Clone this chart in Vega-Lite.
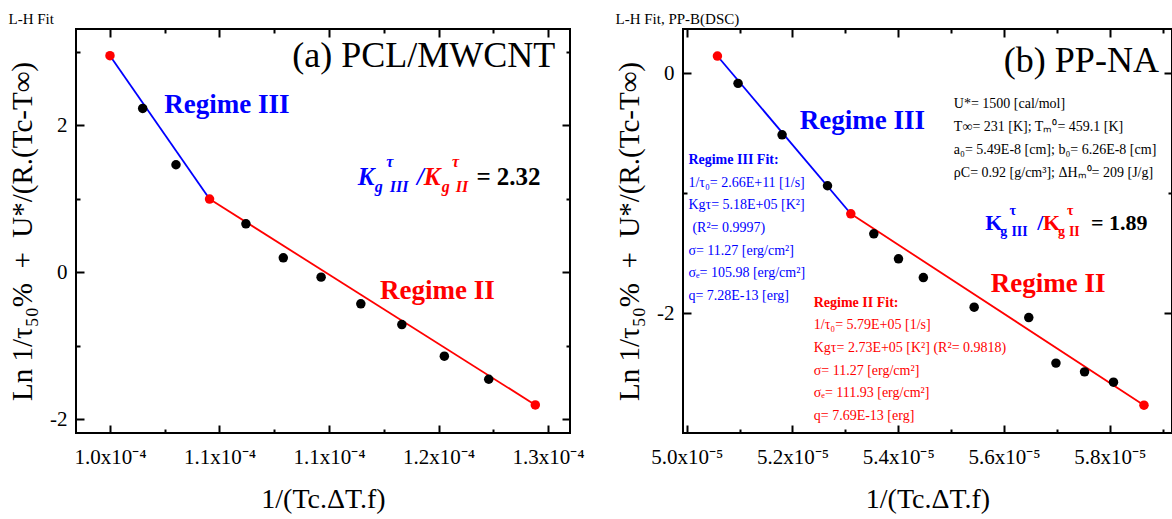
{
  "$schema": "https://vega.github.io/schema/vega-lite/v6.json",
  "background": "white",
  "padding": {"left": 7, "top": 11, "right": 0, "bottom": 0},
  "spacing": 28,
  "config": {
    "font": "Liberation Serif",
    "view": {"stroke": "black", "strokeWidth": 2},
    "axis": {
      "domain": false, "grid": false, "tickColor": "black", "tickWidth": 2,
      "labelFont": "Liberation Serif", "labelFontSize": 21, "labelColor": "black",
      "labelFlush": false, "labelOverlap": false, "labelBound": false,
      "titleFont": "Liberation Serif", "titleFontSize": 28, "titleFontWeight": "normal", "titleColor": "black"
    },
    "title": {"anchor": "start", "font": "Liberation Serif", "fontSize": 15, "fontWeight": "normal", "color": "black", "offset": 1}
  },
  "datasets": {
    "ptsA": [
      {"kind": "endpoint", "x": 1.0e-4, "y": 2.947},
      {"kind": "data", "x": 1.0224e-4, "y": 2.229},
      {"kind": "data", "x": 1.0452e-4, "y": 1.462},
      {"kind": "endpoint", "x": 1.0682e-4, "y": 0.995},
      {"kind": "data", "x": 1.0931e-4, "y": 0.658},
      {"kind": "data", "x": 1.1187e-4, "y": 0.195},
      {"kind": "data", "x": 1.1446e-4, "y": -0.068},
      {"kind": "data", "x": 1.1718e-4, "y": -0.432},
      {"kind": "data", "x": 1.1999e-4, "y": -0.714},
      {"kind": "data", "x": 1.2290e-4, "y": -1.144},
      {"kind": "data", "x": 1.2594e-4, "y": -1.458},
      {"kind": "endpoint", "x": 1.2913e-4, "y": -1.808}
    ],
    "lineA": [
      {"regime": "III", "x": 1.0e-4, "y": 2.947},
      {"regime": "III", "x": 1.0682e-4, "y": 0.995},
      {"regime": "II", "x": 1.0682e-4, "y": 0.995},
      {"regime": "II", "x": 1.2913e-4, "y": -1.808}
    ],
    "txtA": [
      {"role": "panel", "series": "k", "t": "(a) PCL/MWCNT", "x": 1.3050e-4, "y": 2.797},
      {"role": "regime", "series": "III", "t": "Regime III", "x": 1.0372e-4, "y": 2.166},
      {"role": "regime", "series": "II", "t": "Regime II", "x": 1.1850e-4, "y": -0.368},
      {"role": "ratio", "series": "III", "t": "K", "x": 1.16978e-4, "y": 1.189},
      {"role": "ratioSub", "series": "III", "t": "g", "x": 1.18141e-4, "y": 1.094},
      {"role": "ratioSub", "series": "III", "t": "τ", "x": 1.18915e-4, "y": 1.435},
      {"role": "ratioSub", "series": "III", "t": "III", "x": 1.19168e-4, "y": 1.094},
      {"role": "ratio", "series": "III", "t": "/", "x": 1.21022e-4, "y": 1.189},
      {"role": "ratio", "series": "II", "t": "K", "x": 1.21488e-4, "y": 1.189},
      {"role": "ratioSub", "series": "II", "t": "g", "x": 1.22727e-4, "y": 1.094},
      {"role": "ratioSub", "series": "II", "t": "τ", "x": 1.23418e-4, "y": 1.435},
      {"role": "ratioSub", "series": "II", "t": "II", "x": 1.23678e-4, "y": 1.094},
      {"role": "ratioEq", "series": "k", "t": "= 2.32", "x": 1.25094e-4, "y": 1.189}
    ],
    "ptsB": [
      {"kind": "endpoint", "x": 5.0581e-5, "y": 0.145},
      {"kind": "data", "x": 5.0971e-5, "y": -0.083},
      {"kind": "data", "x": 5.1804e-5, "y": -0.512},
      {"kind": "data", "x": 5.2663e-5, "y": -0.937},
      {"kind": "endpoint", "x": 5.3104e-5, "y": -1.171},
      {"kind": "data", "x": 5.3539e-5, "y": -1.338},
      {"kind": "data", "x": 5.4006e-5, "y": -1.547},
      {"kind": "data", "x": 5.4476e-5, "y": -1.703},
      {"kind": "data", "x": 5.5437e-5, "y": -1.950},
      {"kind": "data", "x": 5.6470e-5, "y": -2.037},
      {"kind": "data", "x": 5.6984e-5, "y": -2.417},
      {"kind": "data", "x": 5.7525e-5, "y": -2.490},
      {"kind": "data", "x": 5.8072e-5, "y": -2.576},
      {"kind": "endpoint", "x": 5.8649e-5, "y": -2.768}
    ],
    "lineB": [
      {"regime": "III", "x": 5.0581e-5, "y": 0.145},
      {"regime": "III", "x": 5.3104e-5, "y": -1.171},
      {"regime": "II", "x": 5.3104e-5, "y": -1.171},
      {"regime": "II", "x": 5.8649e-5, "y": -2.768}
    ],
    "txtB": [
      {"role": "panel", "series": "k", "t": "(b) PP-NA", "x": 5.5999e-5, "y": 0.014},
      {"role": "regime", "series": "III", "t": "Regime III", "x": 5.2137e-5, "y": -0.462},
      {"role": "regime", "series": "II", "t": "Regime II", "x": 5.5753e-5, "y": -1.820},
      {"role": "ratio", "series": "III", "t": "K", "x": 5.5649e-5, "y": -1.305},
      {"role": "ratioSub", "series": "III", "t": "g", "x": 5.5929e-5, "y": -1.355},
      {"role": "ratioSub", "series": "III", "t": "τ", "x": 5.6105e-5, "y": -1.180},
      {"role": "ratioSub", "series": "III", "t": "III", "x": 5.6141e-5, "y": -1.355},
      {"role": "ratio", "series": "III", "t": "/", "x": 5.6631e-5, "y": -1.305},
      {"role": "ratio", "series": "II", "t": "K", "x": 5.6737e-5, "y": -1.305},
      {"role": "ratioSub", "series": "II", "t": "g", "x": 5.7021e-5, "y": -1.355},
      {"role": "ratioSub", "series": "II", "t": "τ", "x": 5.7191e-5, "y": -1.180},
      {"role": "ratioSub", "series": "II", "t": "II", "x": 5.7229e-5, "y": -1.355},
      {"role": "ratio", "series": "k", "t": "= 1.89", "x": 5.7646e-5, "y": -1.305},
      {"role": "info", "series": "k", "t": "U*= 1500 [cal/mol]", "x": 5.5053e-5, "y": -0.286},
      {"role": "info", "series": "k", "t": "T∞= 231 [K]; Tₘ⁰= 459.1 [K]", "x": 5.5053e-5, "y": -0.478},
      {"role": "info", "series": "k", "t": "a₀= 5.49E-8 [cm]; b₀= 6.26E-8 [cm]", "x": 5.5053e-5, "y": -0.670},
      {"role": "info", "series": "k", "t": "ρC= 0.92 [g/cm³]; ΔHₘ⁰= 209 [J/g]", "x": 5.5053e-5, "y": -0.862},
      {"role": "fitHead", "series": "III", "t": "Regime III Fit:", "x": 5.0032e-5, "y": -0.756},
      {"role": "fitLine", "series": "III", "t": "1/τ₀= 2.66E+11 [1/s]", "x": 5.0032e-5, "y": -0.945},
      {"role": "fitLine", "series": "III", "t": "Kgτ= 5.18E+05 [K²]", "x": 5.0032e-5, "y": -1.134},
      {"role": "fitLine", "series": "III", "t": "(R²= 0.9997)", "x": 5.0108e-5, "y": -1.322},
      {"role": "fitLine", "series": "III", "t": "σ= 11.27 [erg/cm²]", "x": 5.0032e-5, "y": -1.511},
      {"role": "fitLine", "series": "III", "t": "σₑ= 105.98 [erg/cm²]", "x": 5.0032e-5, "y": -1.700},
      {"role": "fitLine", "series": "III", "t": "q= 7.28E-13 [erg]", "x": 5.0032e-5, "y": -1.889},
      {"role": "fitHead", "series": "II", "t": "Regime II Fit:", "x": 5.2403e-5, "y": -1.945},
      {"role": "fitLine", "series": "II", "t": "1/τ₀= 5.79E+05 [1/s]", "x": 5.2403e-5, "y": -2.134},
      {"role": "fitLine", "series": "II", "t": "Kgτ= 2.73E+05 [K²] (R²= 0.9818)", "x": 5.2403e-5, "y": -2.324},
      {"role": "fitLine", "series": "II", "t": "σ= 11.27 [erg/cm²]", "x": 5.2403e-5, "y": -2.513},
      {"role": "fitLine", "series": "II", "t": "σₑ= 111.93 [erg/cm²]", "x": 5.2403e-5, "y": -2.703},
      {"role": "fitLine", "series": "II", "t": "q= 7.69E-13 [erg]", "x": 5.2403e-5, "y": -2.892}
    ]
  },
  "hconcat": [
    {
      "width": 494, "height": 404,
      "title": {"text": "L-H Fit"},
      "encoding": {
        "x": {"field": "x", "type": "quantitative", "scale": {"domain": [9.7673e-5, 1.31506e-4], "nice": false, "zero": false}, "axis": null},
        "y": {"field": "y", "type": "quantitative", "scale": {"domain": [-2.19, 3.31], "nice": false, "zero": false}, "axis": null}
      },
      "layer": [
        {
          "data": {"name": "lineA"}, "transform": [{"filter": "datum.regime == 'III'"}],
          "mark": {"type": "line", "color": "#0000ff", "strokeWidth": 1.8},
          "encoding": {
            "x": {"field": "x", "type": "quantitative", "scale": {"domain": [9.7673e-5, 1.31506e-4], "nice": false, "zero": false},
              "axis": {"orient": "bottom", "values": [0.0001, 0.00010375, 0.0001075, 0.00011125, 0.000115, 0.00011875, 0.0001225, 0.00012625, 0.00013],
                "labelExpr": "['1.0x10⁻⁴','','1.1x10⁻⁴','','1.1x10⁻⁴','','1.2x10⁻⁴','','1.3x10⁻⁴'][round((datum.value*10000-1)/0.0375)]",
                "tickSize": {"condition": {"test": "round((datum.value*10000-1)/0.0375) % 2 == 0", "value": -8}, "value": -4},
                "labelPadding": 21, "title": "1/(Tc.ΔT.f)", "titlePadding": 14}},
            "y": {"field": "y", "type": "quantitative", "scale": {"domain": [-2.19, 3.31], "nice": false, "zero": false},
              "axis": {"orient": "left", "values": [-2, -1, 0, 1, 2, 3],
                "labelExpr": "datum.value % 2 == 0 ? '' + datum.value : ''",
                "tickSize": {"condition": {"test": "datum.value % 2 == 0", "value": -8}, "value": -4},
                "labelPadding": 17, "title": "Ln 1/τ₅₀%\u00a0\u00a0+\u00a0\u00a0U*/(R.(Tc-T∞)", "titleFontSize": 29, "titlePadding": 12}}
          }
        },
        {
          "data": {"name": "lineA"}, "transform": [{"filter": "datum.regime == 'II'"}],
          "mark": {"type": "line", "color": "#ff0000", "strokeWidth": 1.8},
          "encoding": {
            "x": {"field": "x", "type": "quantitative", "scale": {"domain": [9.7673e-5, 1.31506e-4], "nice": false, "zero": false},
              "axis": {"orient": "top", "values": [0.0001, 0.00010375, 0.0001075, 0.00011125, 0.000115, 0.00011875, 0.0001225, 0.00012625, 0.00013],
                "labels": false, "title": null,
                "tickSize": {"condition": {"test": "round((datum.value*10000-1)/0.0375) % 2 == 0", "value": -8}, "value": -4}}},
            "y": {"field": "y", "type": "quantitative", "scale": {"domain": [-2.19, 3.31], "nice": false, "zero": false},
              "axis": {"orient": "right", "values": [-2, -1, 0, 1, 2, 3], "labels": false, "title": null,
                "tickSize": {"condition": {"test": "datum.value % 2 == 0", "value": -8}, "value": -4}}}
          }
        },
        {"data": {"name": "ptsA"}, "transform": [{"filter": "datum.kind == 'data'"}], "mark": {"type": "circle", "size": 90, "color": "black", "opacity": 1}},
        {"data": {"name": "ptsA"}, "transform": [{"filter": "datum.kind == 'endpoint'"}], "mark": {"type": "circle", "size": 90, "color": "#ff0000", "opacity": 1}},
        {"data": {"name": "txtA"}, "transform": [{"filter": "datum.role == 'panel'"}],
          "mark": {"type": "text", "align": "right", "baseline": "alphabetic", "fontSize": 36, "font": "Liberation Serif"},
          "encoding": {"text": {"field": "t"}, "color": {"field": "series", "type": "nominal", "scale": {"domain": ["III", "II", "k"], "range": ["#0000ff", "#ff0000", "#000000"]}, "legend": null}}},
        {"data": {"name": "txtA"}, "transform": [{"filter": "datum.role == 'regime'"}],
          "mark": {"type": "text", "align": "left", "baseline": "alphabetic", "fontSize": 27, "fontWeight": "bold", "font": "Liberation Serif"},
          "encoding": {"text": {"field": "t"}, "color": {"field": "series", "type": "nominal", "scale": {"domain": ["III", "II", "k"], "range": ["#0000ff", "#ff0000", "#000000"]}, "legend": null}}},
        {"data": {"name": "txtA"}, "transform": [{"filter": "datum.role == 'ratio'"}],
          "mark": {"type": "text", "align": "left", "baseline": "alphabetic", "fontSize": 25, "fontWeight": "bold", "fontStyle": "italic", "font": "Liberation Serif"},
          "encoding": {"text": {"field": "t"}, "color": {"field": "series", "type": "nominal", "scale": {"domain": ["III", "II", "k"], "range": ["#0000ff", "#ff0000", "#000000"]}, "legend": null}}},
        {"data": {"name": "txtA"}, "transform": [{"filter": "datum.role == 'ratioSub'"}],
          "mark": {"type": "text", "align": "left", "baseline": "alphabetic", "fontSize": 16, "fontWeight": "bold", "fontStyle": "italic", "font": "Liberation Serif"},
          "encoding": {"text": {"field": "t"}, "color": {"field": "series", "type": "nominal", "scale": {"domain": ["III", "II", "k"], "range": ["#0000ff", "#ff0000", "#000000"]}, "legend": null}}},
        {"data": {"name": "txtA"}, "transform": [{"filter": "datum.role == 'ratioEq'"}],
          "mark": {"type": "text", "align": "left", "baseline": "alphabetic", "fontSize": 25, "fontWeight": "bold", "font": "Liberation Serif"},
          "encoding": {"text": {"field": "t"}, "color": {"field": "series", "type": "nominal", "scale": {"domain": ["III", "II", "k"], "range": ["#0000ff", "#ff0000", "#000000"]}, "legend": null}}}
      ],
      "resolve": {"axis": {"x": "independent", "y": "independent"}}
    },
    {
      "width": 489, "height": 404,
      "title": {"text": "L-H Fit, PP-B(DSC)"},
      "encoding": {
        "x": {"field": "x", "type": "quantitative", "scale": {"domain": [4.993e-5, 5.9179e-5], "nice": false, "zero": false}, "axis": null},
        "y": {"field": "y", "type": "quantitative", "scale": {"domain": [-3.0, 0.3706], "nice": false, "zero": false}, "axis": null}
      },
      "layer": [
        {
          "data": {"name": "lineB"}, "transform": [{"filter": "datum.regime == 'III'"}],
          "mark": {"type": "line", "color": "#0000ff", "strokeWidth": 1.8},
          "encoding": {
            "x": {"field": "x", "type": "quantitative", "scale": {"domain": [4.993e-5, 5.9179e-5], "nice": false, "zero": false},
              "axis": {"orient": "bottom", "values": [5.0e-5, 5.1e-5, 5.2e-5, 5.3e-5, 5.4e-5, 5.5e-5, 5.6e-5, 5.7e-5, 5.8e-5, 5.9e-5],
                "labelExpr": "['5.0x10⁻⁵','','5.2x10⁻⁵','','5.4x10⁻⁵','','5.6x10⁻⁵','','5.8x10⁻⁵',''][round((datum.value*100000-5)/0.1)]",
                "tickSize": {"condition": {"test": "round((datum.value*100000-5)/0.1) % 2 == 0", "value": -8}, "value": -4},
                "labelPadding": 21, "title": "1/(Tc.ΔT.f)", "titlePadding": 14}},
            "y": {"field": "y", "type": "quantitative", "scale": {"domain": [-3.0, 0.3706], "nice": false, "zero": false},
              "axis": {"orient": "left", "values": [-2, -1, 0],
                "labelExpr": "datum.value % 2 == 0 ? '' + datum.value : ''",
                "tickSize": {"condition": {"test": "datum.value % 2 == 0", "value": -8}, "value": -4},
                "labelPadding": 17, "title": "Ln 1/τ₅₀%\u00a0\u00a0+\u00a0\u00a0U*/(R.(Tc-T∞)", "titleFontSize": 29, "titlePadding": 12}}
          }
        },
        {
          "data": {"name": "lineB"}, "transform": [{"filter": "datum.regime == 'II'"}],
          "mark": {"type": "line", "color": "#ff0000", "strokeWidth": 1.8},
          "encoding": {
            "x": {"field": "x", "type": "quantitative", "scale": {"domain": [4.993e-5, 5.9179e-5], "nice": false, "zero": false},
              "axis": {"orient": "top", "values": [5.0e-5, 5.1e-5, 5.2e-5, 5.3e-5, 5.4e-5, 5.5e-5, 5.6e-5, 5.7e-5, 5.8e-5, 5.9e-5],
                "labels": false, "title": null,
                "tickSize": {"condition": {"test": "round((datum.value*100000-5)/0.1) % 2 == 0", "value": -8}, "value": -4}}},
            "y": {"field": "y", "type": "quantitative", "scale": {"domain": [-3.0, 0.3706], "nice": false, "zero": false},
              "axis": {"orient": "right", "values": [-2, -1, 0], "labels": false, "title": null,
                "tickSize": {"condition": {"test": "datum.value % 2 == 0", "value": -8}, "value": -4}}}
          }
        },
        {"data": {"name": "ptsB"}, "transform": [{"filter": "datum.kind == 'data'"}], "mark": {"type": "circle", "size": 90, "color": "black", "opacity": 1}},
        {"data": {"name": "ptsB"}, "transform": [{"filter": "datum.kind == 'endpoint'"}], "mark": {"type": "circle", "size": 90, "color": "#ff0000", "opacity": 1}},
        {"data": {"name": "txtB"}, "transform": [{"filter": "datum.role == 'panel'"}],
          "mark": {"type": "text", "align": "left", "baseline": "alphabetic", "fontSize": 36, "font": "Liberation Serif"},
          "encoding": {"text": {"field": "t"}, "color": {"field": "series", "type": "nominal", "scale": {"domain": ["III", "II", "k"], "range": ["#0000ff", "#ff0000", "#000000"]}, "legend": null}}},
        {"data": {"name": "txtB"}, "transform": [{"filter": "datum.role == 'regime'"}],
          "mark": {"type": "text", "align": "left", "baseline": "alphabetic", "fontSize": 27, "fontWeight": "bold", "font": "Liberation Serif"},
          "encoding": {"text": {"field": "t"}, "color": {"field": "series", "type": "nominal", "scale": {"domain": ["III", "II", "k"], "range": ["#0000ff", "#ff0000", "#000000"]}, "legend": null}}},
        {"data": {"name": "txtB"}, "transform": [{"filter": "datum.role == 'ratio'"}],
          "mark": {"type": "text", "align": "left", "baseline": "alphabetic", "fontSize": 22, "fontWeight": "bold", "font": "Liberation Serif"},
          "encoding": {"text": {"field": "t"}, "color": {"field": "series", "type": "nominal", "scale": {"domain": ["III", "II", "k"], "range": ["#0000ff", "#ff0000", "#000000"]}, "legend": null}}},
        {"data": {"name": "txtB"}, "transform": [{"filter": "datum.role == 'ratioSub'"}],
          "mark": {"type": "text", "align": "left", "baseline": "alphabetic", "fontSize": 14, "fontWeight": "bold", "font": "Liberation Serif"},
          "encoding": {"text": {"field": "t"}, "color": {"field": "series", "type": "nominal", "scale": {"domain": ["III", "II", "k"], "range": ["#0000ff", "#ff0000", "#000000"]}, "legend": null}}},
        {"data": {"name": "txtB"}, "transform": [{"filter": "datum.role == 'info' || datum.role == 'fitLine'"}],
          "mark": {"type": "text", "align": "left", "baseline": "alphabetic", "fontSize": 14, "font": "Liberation Serif"},
          "encoding": {"text": {"field": "t"}, "color": {"field": "series", "type": "nominal", "scale": {"domain": ["III", "II", "k"], "range": ["#0000ff", "#ff0000", "#000000"]}, "legend": null}}},
        {"data": {"name": "txtB"}, "transform": [{"filter": "datum.role == 'fitHead'"}],
          "mark": {"type": "text", "align": "left", "baseline": "alphabetic", "fontSize": 14, "fontWeight": "bold", "font": "Liberation Serif"},
          "encoding": {"text": {"field": "t"}, "color": {"field": "series", "type": "nominal", "scale": {"domain": ["III", "II", "k"], "range": ["#0000ff", "#ff0000", "#000000"]}, "legend": null}}}
      ],
      "resolve": {"axis": {"x": "independent", "y": "independent"}}
    }
  ]
}
